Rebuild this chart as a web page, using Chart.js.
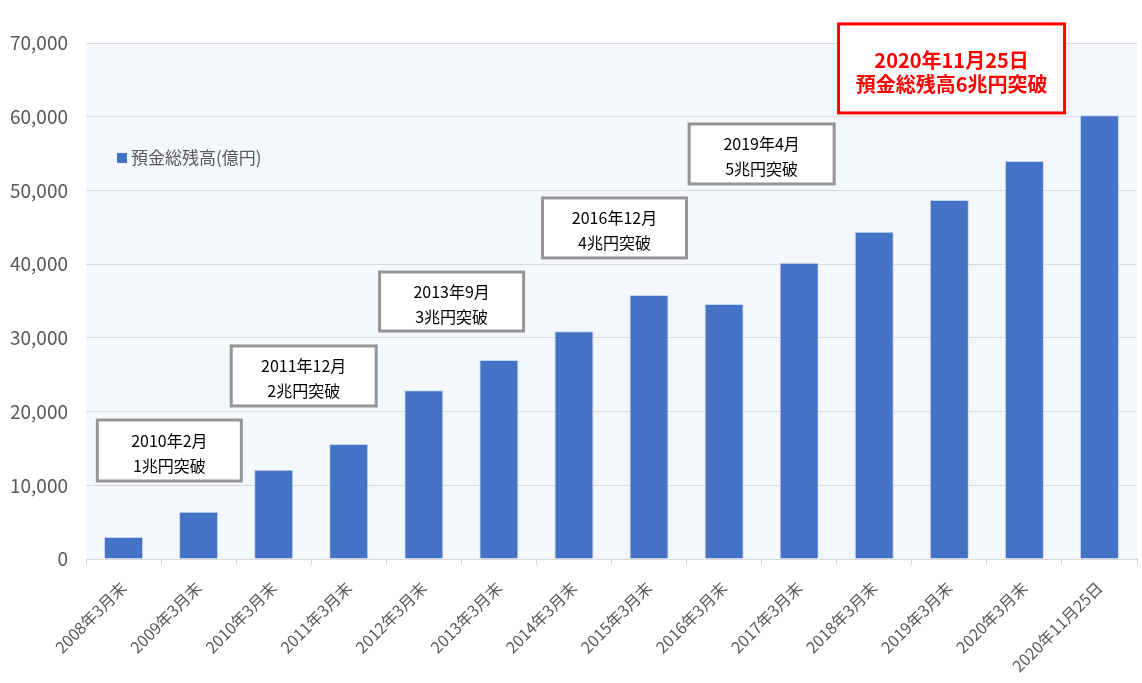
<!DOCTYPE html>
<html lang="ja">
<head>
<meta charset="utf-8">
<title>預金総残高</title>
<script src="https://cdn.jsdelivr.net/npm/chart.js@4"></script>
<style>
  html, body { margin: 0; padding: 0; background: #fff; }
  #wrap { width: 1142px; height: 683px; position: relative; }
</style>
</head>
<body>
<div id="wrap"><canvas id="chart" width="1142" height="683"></canvas></div>
<script>
// カテゴリ(決算期)
const labels = [
    '2008年3月末', '2009年3月末', '2010年3月末', '2011年3月末', '2012年3月末',
    '2013年3月末', '2014年3月末', '2015年3月末', '2016年3月末', '2017年3月末',
    '2018年3月末', '2019年3月末', '2020年3月末', '2020年11月25日'
];
// 預金総残高(億円)
const balances = [
    3000, 6400, 12100, 15600, 22900, 27000, 30900,
    35800, 34600, 40200, 44400, 48700, 54000, 60200
];
const seriesName = '預金総残高(億円)';
const yTicks = [0, 10000, 20000, 30000, 40000, 50000, 60000, 70000];

// 吹き出しテキスト
const noteLines = [
    ['2010年2月', '1兆円突破'],
    ['2011年12月', '2兆円突破'],
    ['2013年9月', '3兆円突破'],
    ['2016年12月', '4兆円突破'],
    ['2019年4月', '5兆円突破'],
    ['2020年11月25日', '預金総残高6兆円突破']
];
// 吹き出しの位置 (カテゴリ位置, 値) と大きさ
const notePlaces = [
    { at: 0.61, val: 14720, w: 144, h: 61 },
    { at: 2.40, val: 24830, w: 145, h: 60 },
    { at: 4.37, val: 34930, w: 144, h: 59 },
    { at: 6.54, val: 44910, w: 144, h: 60 },
    { at: 8.50, val: 54950, w: 145, h: 60 },
    { at: 11.03, val: 66550, w: 226, h: 89, big: true }
];

const FONT = '"Noto Sans CJK JP", "Noto Sans", sans-serif';

// プロット背景
const plotBg = {
    id: 'plotBg',
    beforeDraw(chart) {
        const { ctx, chartArea: a } = chart;
        ctx.save();
        ctx.fillStyle = '#F4F7FC';
        ctx.fillRect(a.left, a.top, a.right - a.left, a.bottom - a.top);
        ctx.restore();
    }
};

// 凡例と吹き出し
const overlay = {
    id: 'overlay',
    afterDraw(chart) {
        const ctx = chart.ctx;
        const xs = chart.scales.x, ys = chart.scales.y;
        ctx.save();

        // 凡例 (グラフ内)
        const lx = xs.left + 31, ly = ys.getPixelForValue(54400);
        ctx.fillStyle = '#4472C4';
        ctx.fillRect(lx, ly - 5, 10, 10);
        ctx.fillStyle = '#595959';
        ctx.font = '17px ' + FONT;
        ctx.textAlign = 'left';
        ctx.textBaseline = 'middle';
        ctx.fillText(seriesName, lx + 14, ly);

        notePlaces.forEach((p, i) => {
            const cx = xs.getPixelForValue(p.at);
            const cy = ys.getPixelForValue(p.val);
            const x0 = cx - p.w / 2, y0 = cy - p.h / 2;
            ctx.fillStyle = '#FFFFFF';
            ctx.fillRect(x0, y0, p.w, p.h);
            ctx.lineWidth = 3;
            ctx.strokeStyle = p.big ? '#FF0000' : '#969696';
            ctx.strokeRect(x0, y0, p.w, p.h);
            ctx.textAlign = 'center';
            ctx.textBaseline = 'middle';
            if (p.big) {
                ctx.fillStyle = '#FF0000';
                ctx.font = 'bold 20px ' + FONT;
                ctx.fillText(noteLines[i][0], cx, cy - 8);
                ctx.fillText(noteLines[i][1], cx, cy + 16);
            } else {
                ctx.fillStyle = '#000000';
                ctx.font = '16px ' + FONT;
                ctx.fillText(noteLines[i][0], cx, cy - 10);
                ctx.fillText(noteLines[i][1], cx, cy + 15);
            }
        });
        ctx.restore();
    }
};

new Chart(document.getElementById('chart'), {
    type: 'bar',
    data: {
        labels: labels,
        datasets: [{
            label: seriesName,
            data: balances,
            backgroundColor: '#4472C4',
            borderColor: '#C5D5EE',
            borderWidth: 1,
            barPercentage: 0.52,
            categoryPercentage: 1.0
        }]
    },
    options: {
        responsive: false,
        animation: false,
        layout: { padding: { top: 43, right: 5, left: 0, bottom: 0 } },
        plugins: {
            legend: { display: false },
            tooltip: { enabled: false }
        },
        scales: {
            x: {
                grid: {
                    display: true,
                    drawOnChartArea: false,
                    drawTicks: true,
                    tickLength: 6,
                    color: '#D9D9D9'
                },
                border: { color: '#D9D9D9' },
                ticks: {
                    color: '#595959',
                    font: { family: FONT, size: 16 },
                    maxRotation: 45,
                    minRotation: 45,
                    autoSkip: false,
                    padding: 13
                },
                afterFit(scale) { scale.height = 124; }
            },
            y: {
                min: 0,
                max: 70000,
                afterBuildTicks(scale) { scale.ticks = yTicks.map(v => ({ value: v })); },
                grid: { color: '#D9D9D9', drawTicks: false },
                border: { display: false },
                ticks: {
                    color: '#595959',
                    font: { family: FONT, size: 19 },
                    padding: 18,
                    callback: v => v.toLocaleString('en-US')
                },
                afterFit(scale) { scale.width = 86; }
            }
        }
    },
    plugins: [plotBg, overlay]
});
</script>
</body>
</html>
